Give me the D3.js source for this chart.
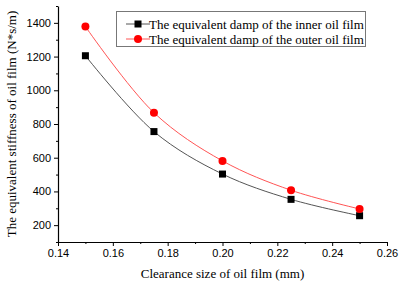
<!DOCTYPE html>
<html>
<head>
<meta charset="utf-8">
<script src="https://cdn.jsdelivr.net/npm/d3@7"></script>
<style>
  body { margin: 0; background: #fff; }
  svg { display: block; }
</style>
</head>
<body>
<div id="wrapper"></div>
<script>
const w = 399
const h = 284

// values
const clearance = [0.15, 0.175, 0.2, 0.225, 0.25]
const innerDamp = [1205, 755, 503, 353, 256]
const outerDamp = [1378, 867, 581, 407, 296]
const xTicks = [0.14, 0.16, 0.18, 0.20, 0.22, 0.24, 0.26]
const yTicks = [200, 400, 600, 800, 1000, 1200, 1400]
const seriesNames = ['The equivalent damp of the inner oil film', 'The equivalent damp of the outer oil film']

const margin = { top: 6, right: 12, bottom: 42, left: 58 }

const svg = d3.select('#wrapper').append('svg')
  .attr('width', w)
  .attr('height', h)

const x = d3.scaleLinear().domain([0.14, 0.26]).range([margin.left, w - margin.right])
const y = d3.scaleLinear().domain([100, 1500]).range([h - margin.bottom, margin.top])

// axes
const xAxis = d3.axisBottom(x).tickValues(xTicks).tickFormat(d3.format('.2f')).tickSize(4).tickSizeOuter(0)
const yAxis = d3.axisLeft(y).tickValues(yTicks).tickFormat(d3.format('d')).tickSize(4).tickSizeOuter(0)

const gx = svg.append('g')
  .attr('transform', `translate(0,${h - margin.bottom})`)
  .call(xAxis)
gx.selectAll('.tick').filter((d, i) => i === xTicks.length - 1).select('text').attr('text-anchor', 'middle')

const gy = svg.append('g')
  .attr('transform', `translate(${margin.left},0)`)
  .call(yAxis)

// minor ticks
svg.append('g')
  .attr('transform', `translate(0,${h - margin.bottom})`)
  .call(d3.axisBottom(x).tickValues(d3.range(0.15, 0.26, 0.02)).tickFormat('').tickSize(2).tickSizeOuter(0))
  .select('.domain').remove()
svg.append('g')
  .attr('transform', `translate(${margin.left},0)`)
  .call(d3.axisLeft(y).tickValues(d3.range(100, 1501, 200)).tickFormat('').tickSize(2).tickSizeOuter(0))
  .select('.domain').remove()

svg.selectAll('.domain').attr('stroke', '#000').attr('stroke-width', 1.2)
svg.selectAll('.tick line').attr('stroke', '#000')
svg.selectAll('.tick text')
  .style('font-family', '"Liberation Sans", Arial, sans-serif')
  .style('font-size', '11px')
  .attr('fill', '#000')

// axis titles
svg.append('text')
  .attr('x', (margin.left + w - margin.right) / 2)
  .attr('y', 278)
  .attr('text-anchor', 'middle')
  .style('font-family', '"Liberation Serif", "Times New Roman", serif')
  .style('font-size', '13px')
  .text('Clearance size of oil film (mm)')

svg.append('text')
  .attr('transform', `translate(16,${(margin.top + h - margin.bottom) / 2}) rotate(-90)`)
  .attr('text-anchor', 'middle')
  .style('font-family', '"Liberation Serif", "Times New Roman", serif')
  .style('font-size', '13px')
  .text('The equivalent stiffness of oil film (N*s/m)')

// curves
const line = d3.line()
  .x(d => x(d[0]))
  .y(d => y(d[1]))
  .curve(d3.curveCatmullRom.alpha(0.5))

const innerPts = clearance.map((c, i) => [c, innerDamp[i]])
const outerPts = clearance.map((c, i) => [c, outerDamp[i]])

svg.append('path').datum(innerPts)
  .attr('d', line).attr('fill', 'none').attr('stroke', '#555').attr('stroke-width', 1)
svg.append('path').datum(outerPts)
  .attr('d', line).attr('fill', 'none').attr('stroke', '#f55').attr('stroke-width', 1)

const sq = 7
svg.selectAll('.sq').data(innerPts).enter().append('rect')
  .attr('x', d => x(d[0]) - sq / 2)
  .attr('y', d => y(d[1]) - sq / 2)
  .attr('width', sq).attr('height', sq)
  .attr('fill', '#000')

svg.selectAll('.dot').data(outerPts).enter().append('circle')
  .attr('cx', d => x(d[0]))
  .attr('cy', d => y(d[1]))
  .attr('r', 4)
  .attr('fill', '#f00')

// legend
const legend = svg.append('g')
legend.append('rect')
  .attr('x', 116.5).attr('y', 11.5)
  .attr('width', 249).attr('height', 35)
  .attr('fill', '#fff').attr('stroke', '#777').attr('stroke-width', 1)

seriesNames.forEach((name, i) => {
  const ly = 24 + i * 15
  const g = legend.append('g')
  g.append('line').attr('x1', 126).attr('x2', 150).attr('y1', ly).attr('y2', ly)
    .attr('stroke', i === 0 ? '#555' : '#f55')
  if (i === 0) {
    g.append('rect').attr('x', 138 - sq / 2).attr('y', ly - sq / 2).attr('width', sq).attr('height', sq).attr('fill', '#000')
  } else {
    g.append('circle').attr('cx', 138).attr('cy', ly).attr('r', 4).attr('fill', '#f00')
  }
  g.append('text')
    .attr('x', 149).attr('y', ly + 4.5)
    .style('font-family', '"Liberation Serif", "Times New Roman", serif')
    .style('font-size', '13px')
    .text(name)
})
</script>
</body>
</html>
